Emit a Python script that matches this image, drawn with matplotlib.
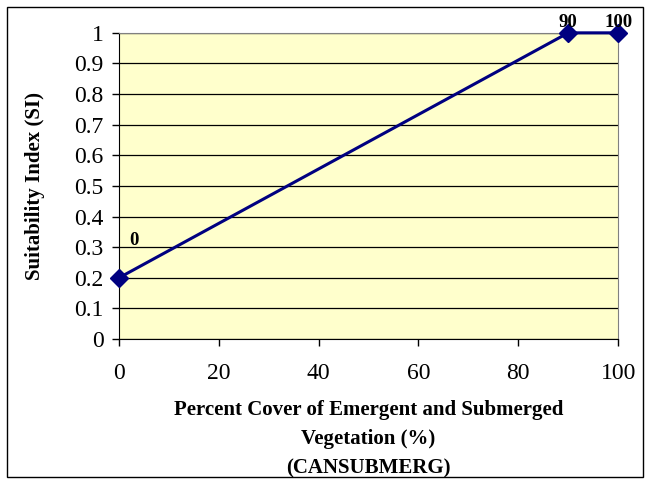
import matplotlib
matplotlib.use("Agg")
import matplotlib.pyplot as plt
from matplotlib.patches import Rectangle

# percent cover vs suitability index
cover = [0, 90, 100]
si = [0.2, 1.0, 1.0]
point_labels = ["0", "90", "100"]
label_offsets = [(11, 21), (0, 1), (0, 1)]  # in points

plt.rcParams['font.family'] = ['Liberation Serif', 'DejaVu Serif']

fig = plt.figure(figsize=(6.5, 4.83), dpi=100)
ax = fig.add_axes([0.183, 0.298, 0.768, 0.634])
ax.set_facecolor('#FFFFCC')

ax.plot(cover, si, color='#000080', lw=2.2, marker='D', ms=9.5, zorder=3, clip_on=False)
for xv, yv, lab, off in zip(cover, si, point_labels, label_offsets):
    ax.annotate(lab, (xv, yv), xytext=off, textcoords='offset points',
                ha='center', va='bottom', fontsize=13.5, fontweight='bold')

ax.set_xlim(0, 100)
ax.set_ylim(0, 1)
ax.set_xticks(range(0, 101, 20))
ax.set_yticks([i / 10 for i in range(11)])
ax.set_yticklabels(['0'] + ['%.1f' % (i / 10) for i in range(1, 10)] + ['1'])
ax.yaxis.grid(True, color='black', lw=0.9)
ax.set_axisbelow(True)
ax.tick_params(labelsize=17, direction='out', length=5, width=1, colors='black')
ax.tick_params(axis='x', pad=12)
ax.tick_params(axis='y', pad=6)
for s in ['left', 'bottom']:
    ax.spines[s].set_color('black')
for s in ['right', 'top']:
    ax.spines[s].set_color('#808080')

ax.set_xlabel('Percent Cover of Emergent and Submerged\nVegetation (%)\n(CANSUBMERG)',
              fontsize=15, fontweight='bold', labelpad=12, linespacing=1.6)
ax.set_ylabel('Suitability Index (SI)', fontsize=15, fontweight='bold', labelpad=21)

fig.patches.append(Rectangle((0.011, 0.013), 0.978, 0.973, transform=fig.transFigure,
                             fill=False, edgecolor='black', lw=1))

fig.savefig('out.png', dpi=100)
